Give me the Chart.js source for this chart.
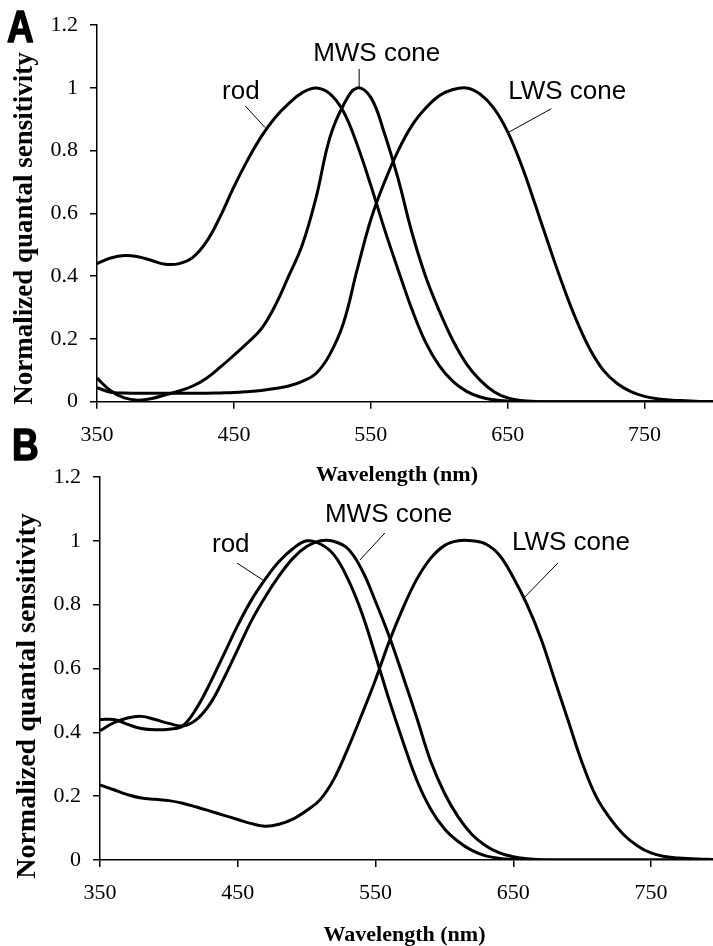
<!DOCTYPE html>
<html><head><meta charset="utf-8">
<script src="https://cdn.jsdelivr.net/npm/chart.js@4.4.1/dist/chart.umd.min.js"></script>
<style>
html,body{margin:0;padding:0;background:#fff;overflow:hidden;width:713px;height:946px;}
canvas{position:absolute;left:0;}
#ca{top:0;}
#cb{top:420px;}
</style></head><body>
<canvas id="ca" width="713" height="490"></canvas>
<canvas id="cb" width="713" height="526"></canvas>
<script>
// ---------- data ----------
const wavelengths = [350,360,370,380,390,400,410,420,430,440,450,460,470,480,490,500,510,520,530,540,550,560,570,580,590,600,610,620,630,640,650,660,670,680,690,700,710,720,730,740,750,760,770,780,790,800];

// Panel A
const rodA = [0.44,0.458,0.466,0.462,0.45,0.438,0.44,0.46,0.51,0.59,0.685,0.77,0.845,0.905,0.95,0.985,1.0,0.982,0.925,0.82,0.69,0.55,0.42,0.295,0.19,0.115,0.065,0.033,0.015,0.006,0.002,0.001,0,0,0,0,0,0,0,0,0,0,0,0,0,0];
const mwsA = [0.075,0.035,0.012,0.005,0.01,0.022,0.034,0.05,0.075,0.11,0.148,0.188,0.232,0.305,0.40,0.50,0.65,0.84,0.945,1.0,0.97,0.855,0.71,0.54,0.40,0.29,0.195,0.12,0.068,0.032,0.012,0.004,0.001,0,0,0,0,0,0,0,0,0,0,0,0,0];
const lwsA = [0.045,0.03,0.028,0.027,0.027,0.027,0.027,0.027,0.027,0.028,0.029,0.032,0.036,0.042,0.05,0.065,0.09,0.15,0.25,0.42,0.58,0.70,0.80,0.88,0.935,0.975,0.995,1.0,0.98,0.935,0.86,0.755,0.63,0.50,0.375,0.262,0.168,0.10,0.058,0.032,0.017,0.009,0.005,0.003,0.001,0];

// Panel B
const rodB = [0.44,0.44,0.425,0.412,0.408,0.41,0.42,0.475,0.555,0.645,0.735,0.815,0.88,0.935,0.975,1.0,0.99,0.955,0.88,0.775,0.64,0.50,0.37,0.25,0.16,0.098,0.058,0.03,0.013,0.005,0.002,0.001,0,0,0,0,0,0,0,0,0,0,0,0,0,0];
const mwsB = [0.405,0.43,0.445,0.45,0.44,0.428,0.42,0.44,0.49,0.57,0.66,0.75,0.825,0.89,0.945,0.982,1.0,0.998,0.975,0.91,0.81,0.70,0.575,0.445,0.31,0.21,0.135,0.08,0.045,0.022,0.01,0.004,0.001,0,0,0,0,0,0,0,0,0,0,0,0,0];
const lwsB = [0.235,0.22,0.205,0.194,0.19,0.186,0.178,0.166,0.153,0.14,0.127,0.114,0.106,0.112,0.128,0.155,0.19,0.255,0.35,0.455,0.565,0.685,0.79,0.88,0.945,0.985,1.0,1.0,0.99,0.955,0.885,0.80,0.695,0.565,0.435,0.305,0.20,0.132,0.08,0.045,0.022,0.011,0.006,0.004,0.002,0.001];

const xTickValues = [350,450,550,650,750];
const xTickLabels = ['350','450','550','650','750'];
const yTickValues = [0,0.2,0.4,0.6,0.8,1,1.2];
const yTickLabels = ['0','0.2','0.4','0.6','0.8','1','1.2'];
const seriesNames = ['rod','MWS cone','LWS cone'];
const xTitle = 'Wavelength (nm)';
const yTitle = 'Normalized quantal sensitivity';

// ---------- helpers ----------
function pts(ys){ return wavelengths.map((w,i)=>({x:w,y:ys[i]})); }
function ds(name, ys){
  return {label:name, data:pts(ys), borderColor:'#000', borderWidth:3, pointRadius:0,
          fill:false, tension:0.4};
}

const decor = {
  id:'decor',
  afterDraw(chart, args, o){
    const ctx = chart.ctx, xs = chart.scales.x, ys = chart.scales.y;
    ctx.save();
    ctx.fillStyle = '#000'; ctx.strokeStyle = '#000';
    // panel letter
    ctx.save();
    ctx.font = 'bold 43px "Liberation Sans", Arial, sans-serif';
    ctx.textBaseline = 'alphabetic'; ctx.textAlign = 'left';
    ctx.translate(o.letterX, o.letterY); ctx.scale(0.86, 1.05);
    ctx.lineWidth = 1.5; ctx.lineJoin = 'round';
    ctx.fillText(o.letter, 0, 0);
    ctx.strokeText(o.letter, 0, 0);
    ctx.restore();
    // x title
    ctx.font = 'bold 22px "Liberation Serif", "Times New Roman", serif';
    ctx.textAlign = 'center'; ctx.textBaseline = 'alphabetic';
    ctx.fillText(xTitle, o.xTitleX, o.xTitleY);
    // y title
    ctx.save();
    ctx.font = 'bold ' + o.yTitleSize + 'px "Liberation Serif", "Times New Roman", serif';
    ctx.translate(o.yTitleX, o.yTitleY); ctx.rotate(-Math.PI/2);
    ctx.textAlign = 'center'; ctx.textBaseline = 'alphabetic';
    ctx.fillText(yTitle, 0, 0);
    ctx.restore();
    // annotations
    ctx.font = '26px "Liberation Sans", Arial, sans-serif';
    ctx.textAlign = 'left'; ctx.textBaseline = 'alphabetic';
    ctx.lineWidth = 1;
    o.notes.forEach((n,i)=>{
      ctx.fillText(seriesNames[i], xs.getPixelForValue(n.tx), ys.getPixelForValue(n.ty));
      ctx.beginPath();
      ctx.moveTo(xs.getPixelForValue(n.l[0]), ys.getPixelForValue(n.l[1]));
      ctx.lineTo(xs.getPixelForValue(n.l[2]), ys.getPixelForValue(n.l[3]));
      ctx.stroke();
    });
    ctx.restore();
  }
};

function makeChart(id, data3, xmax, padTop, yWidth, xHeight, deco){
  const tickFont = {family:'"Liberation Serif", "Times New Roman", serif', size:22};
  return new Chart(document.getElementById(id), {
    type:'line',
    data:{datasets:[ds(seriesNames[0],data3[0]), ds(seriesNames[1],data3[1]), ds(seriesNames[2],data3[2])]},
    options:{
      responsive:false, animation:false, events:[],
      layout:{padding:{top:padTop,left:0,right:0,bottom:0}},
      plugins:{legend:{display:false}, tooltip:{enabled:false}, decor:deco},
      scales:{
        x:{type:'linear', min:350, max:xmax,
           afterBuildTicks:(s)=>{ s.ticks = xTickValues.map(v=>({value:v})); },
           afterFit:(s)=>{ s.height = xHeight; },
           ticks:{callback:(v,i)=>xTickLabels[i], font:tickFont, color:'#000', padding:13, maxRotation:0, autoSkip:false},
           grid:{display:true, drawOnChartArea:false, drawTicks:true, tickLength:7, color:'#000', lineWidth:1.5},
           border:{display:true, color:'#000', width:1.5},
           title:{display:false}},
        y:{type:'linear', min:0, max:1.2,
           afterBuildTicks:(s)=>{ s.ticks = yTickValues.map(v=>({value:v})); },
           afterFit:(s)=>{ s.width = yWidth; },
           ticks:{callback:(v,i)=>yTickLabels[i], font:tickFont, color:'#000', padding:12, autoSkip:false},
           grid:{display:true, drawOnChartArea:false, drawTicks:true, tickLength:7, color:'#000', lineWidth:1.5},
           border:{display:true, color:'#000', width:1.5},
           title:{display:false}}
      }
    },
    plugins:[decor]
  });
}

makeChart('ca', [rodA,mwsA,lwsA], 800, 23, 97, 88.3, {
  letter:'A', letterX:7, letterY:42,
  xTitleX:397, xTitleY:481,
  yTitleX:32, yTitleY:228.5, yTitleSize:27,
  notes:[
    {tx:441.4, ty:0.9655, l:[458.2,0.943,472.8,0.8736]},
    {tx:507.9, ty:1.085,  l:[541.5,1.0605,541.5,1.0035]},
    {tx:650.4, ty:0.9655, l:[681.9,0.9338,650.4,0.858]}
  ]
});

makeChart('cb', [rodB,mwsB,lwsB], 795, 57, 100, 86, {
  letter:'B', letterX:12, letterY:40,
  xTitleX:404.5, xTitleY:521,
  yTitleX:35, yTitleY:276, yTitleSize:28,
  notes:[
    {tx:431.3, ty:0.965, l:[449.4,0.9305,468.3,0.877]},
    {tx:513.3, ty:1.059, l:[556.8,1.0244,538.7,0.940]},
    {tx:649.0, ty:0.971, l:[682.4,0.9305,658.4,0.824]}
  ]
});
</script>
</body></html>
